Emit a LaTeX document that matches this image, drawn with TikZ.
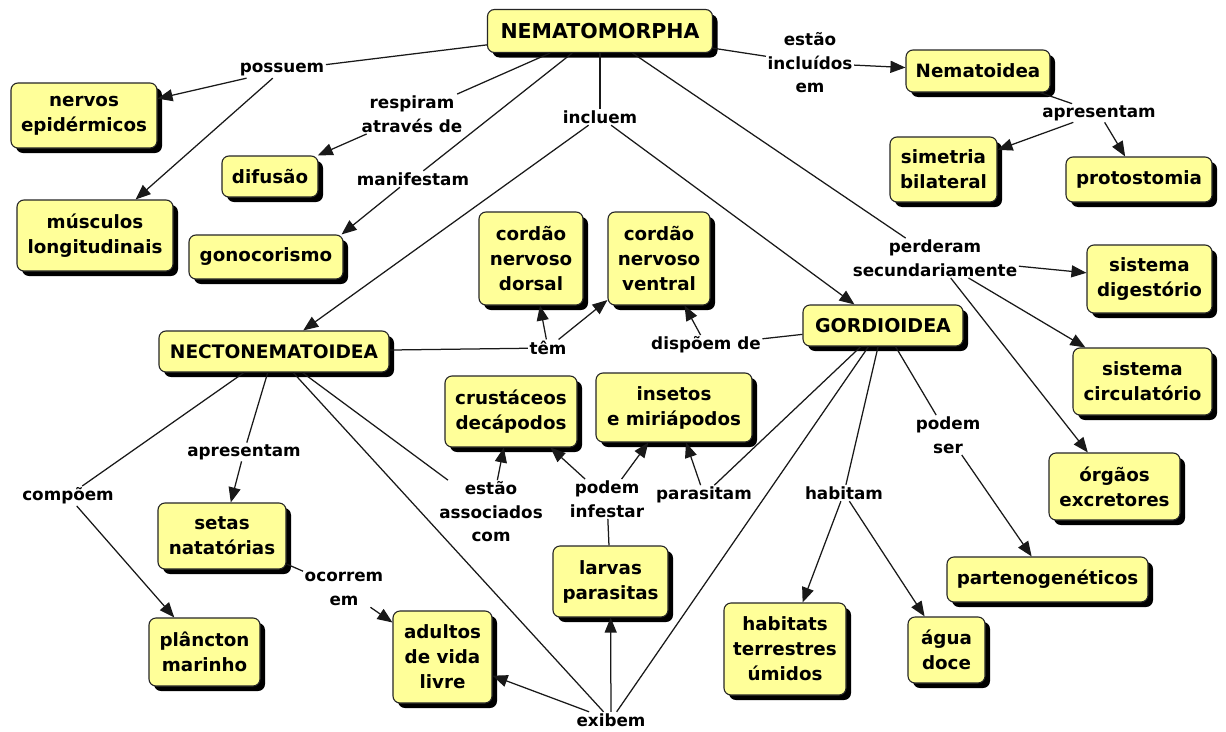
\documentclass[tikz,border=0pt]{standalone}
\usepackage{fontspec}
\setmainfont{DejaVu Sans}
\usetikzlibrary{arrows.meta,shadows}
\definecolor{cyel}{RGB}{255,255,153}
\begin{document}
\begin{tikzpicture}[x=1pt,y=-1pt,
  cbox/.style={draw=black!85, line width=1.1pt, fill=cyel, rounded corners=7pt, align=center,
     font=\bfseries\fontsize{18.3}{25}\selectfont, inner sep=2pt,
     drop shadow={shadow xshift=5pt,shadow yshift=-5pt,fill=black,opacity=1}},
  lbl/.style={align=center, font=\bfseries\fontsize{16.8}{23.5}\selectfont, inner sep=1.5pt},
  con/.style={draw=black!90, line width=1.25pt},
  arr/.style={con, -{Triangle[length=15pt,width=12pt]}},
]
\fill[white] (0,0) rectangle (1226,731);
\useasboundingbox (0,0) rectangle (1226,731);
% concept boxes
\node[cbox, minimum width=225pt, minimum height=43pt, font=\bfseries\fontsize{20.5}{25}\selectfont] (nem) at (600,31) {NEMATOMORPHA};
\node[cbox, minimum width=146pt, minimum height=65pt] (nerv) at (84,115.5) {nervos\\epidérmicos};
\node[cbox, minimum width=156pt, minimum height=71pt] (musc) at (95,235.5) {músculos\\longitudinais};
\node[cbox, minimum width=96pt, minimum height=41pt] (dif) at (270,176.5) {difusão};
\node[cbox, minimum width=154pt, minimum height=44pt] (gono) at (266,257) {gonocorismo};
\node[cbox, minimum width=104pt, minimum height=93pt] (dors) at (531,258.5) {cordão\\nervoso\\dorsal};
\node[cbox, minimum width=102pt, minimum height=93pt] (vent) at (659,258.5) {cordão\\nervoso\\ventral};
\node[cbox, minimum width=144pt, minimum height=42pt] (nemd) at (978,71) {Nematoidea};
\node[cbox, minimum width=107pt, minimum height=65pt] (sim) at (943.5,169.5) {simetria\\bilateral};
\node[cbox, minimum width=146pt, minimum height=45pt] (prot) at (1139,179.5) {protostomia};
\node[cbox, minimum width=125pt, minimum height=68pt] (dig) at (1149.5,279) {sistema\\digestório};
\node[cbox, minimum width=139pt, minimum height=67pt] (circ) at (1142.5,381.5) {sistema\\circulatório};
\node[cbox, minimum width=131pt, minimum height=67pt] (orga) at (1114.5,486.5) {órgãos\\excretores};
\node[cbox, minimum width=160pt, minimum height=41pt, font=\bfseries\fontsize{19}{25}\selectfont] (gord) at (883,325.5) {GORDIOIDEA};
\node[cbox, minimum width=230pt, minimum height=41pt, font=\bfseries\fontsize{18.6}{25}\selectfont] (necto) at (274,351.5) {NECTONEMATOIDEA};
\node[cbox, minimum width=132pt, minimum height=71pt] (crus) at (511,411.5) {crustáceos\\decápodos};
\node[cbox, minimum width=128pt, minimum height=66pt] (seta) at (222,536) {setas\\natatórias};
\node[cbox, minimum width=156pt, minimum height=69pt] (inse) at (674,407.5) {insetos\\e miriápodos};
\node[cbox, minimum width=115pt, minimum height=71pt] (larv) at (610.5,581.5) {larvas\\parasitas};
\node[cbox, minimum width=111pt, minimum height=68pt] (planc) at (204.5,652) {plâncton\\marinho};
\node[cbox, minimum width=99pt, minimum height=92pt] (adul) at (442.5,657) {adultos\\de vida\\livre};
\node[cbox, minimum width=122pt, minimum height=92pt] (habt) at (785,649) {habitats\\terrestres\\úmidos};
\node[cbox, minimum width=77pt, minimum height=66pt] (agua) at (946.5,650) {água\\doce};
\node[cbox, minimum width=201pt, minimum height=45pt] (part) at (1047.5,579.5) {partenogenéticos};
% linking phrases
\node[lbl] (lpos) at (282,70) {possuem};
\node[lbl] (lresp) at (412,114) {respiram\\através de};
\node[lbl] (lman) at (413,179) {manifestam};
\node[lbl] (linc) at (600,117) {incluem};
\node[lbl] (lest) at (810,63) {estão\\incluídos\\em};
\node[lbl] (lapr1) at (1099,113) {apresentam};
\node[lbl] (lper) at (935,258) {perderam\\secundariamente};
\node[lbl] (ltem) at (548,348) {têm};
\node[lbl] (ldisp) at (706,345) {dispõem de};
\node[lbl] (lapr2) at (244,452) {apresentam};
\node[lbl] (lcomp) at (68,496) {compõem};
\node[lbl] (lass) at (491,512) {estão\\associados\\com};
\node[lbl] (linf) at (607,499) {podem\\infestar};
\node[lbl] (lpar) at (704,495) {parasitam};
\node[lbl] (lhab) at (844,493) {habitam};
\node[lbl] (lser) at (948,435) {podem\\ser};
\node[lbl] (locor) at (344,589) {ocorrem\\em};
\node[lbl] (lexi) at (611,720) {exibem};
% connectors
\draw[con] (nem) -- (lpos);
\draw[arr] (lpos) -- (nerv);
\draw[arr] (lpos) -- (musc);
\draw[con] (nem) -- (lresp);
\draw[arr] (lresp) -- (dif);
\draw[con] (nem) -- (lman);
\draw[arr] ([xshift=-13pt]lman.south) -- ([xshift=-2pt]gono.north east);
\draw[con] (nem) -- (linc);
\draw[arr] (linc) -- (necto);
\draw[arr] (linc) -- (gord);
\draw[con] (nem) -- (lest);
\draw[arr] (lest) -- (nemd);
\draw[con] (nem) -- (lper);
\draw[arr] (lper) -- (dig);
\draw[arr] (lper) -- (circ);
\draw[arr] (lper) -- (orga);
\draw[con] (nemd) -- (lapr1);
\draw[arr] (lapr1) -- (sim);
\draw[arr] (lapr1) -- (prot);
\draw[con] (necto) -- (ltem);
\draw[arr] (ltem) -- (dors);
\draw[arr] (ltem) -- (vent);
\draw[con] (gord) -- (ldisp);
\draw[arr] (ldisp) -- (vent);
\draw[con] (necto) -- (lapr2);
\draw[arr] (lapr2) -- (seta);
\draw[con] (necto) -- (lcomp);
\draw[arr] (lcomp) -- (planc);
\draw[con] (necto) -- (lass);
\draw[arr] (lass) -- (crus);
\draw[con] (necto) -- (lexi);
\draw[con] (gord) -- (lexi);
\draw[arr] (lexi) -- (adul);
\draw[arr] (lexi) -- (larv);
\draw[con] (larv) -- (linf);
\draw[arr] (linf) -- (crus);
\draw[arr] (linf) -- (inse);
\draw[con] (gord) -- (lpar);
\draw[arr] (lpar) -- (inse);
\draw[con] (gord) -- (lhab);
\draw[arr] (lhab) -- (habt);
\draw[arr] (lhab) -- (agua);
\draw[con] (gord) -- (lser);
\draw[arr] (lser) -- (part);
\draw[con] (seta) -- (locor);
\draw[arr] (locor) -- (adul);
\end{tikzpicture}
\end{document}
